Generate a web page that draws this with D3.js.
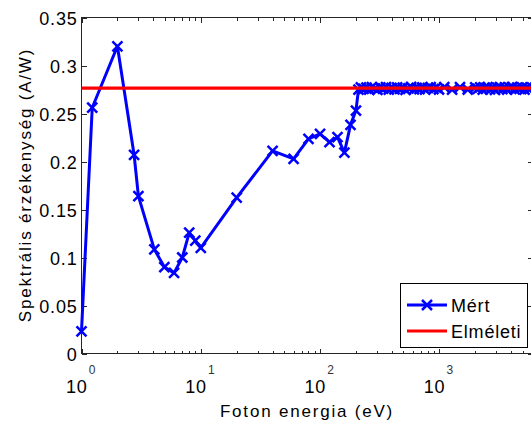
<!DOCTYPE html>
<html>
<head>
<meta charset="utf-8">
<script src="https://cdn.jsdelivr.net/npm/d3@7"></script>
<style>
body { margin: 0; background: #fff; }
svg { display: block; font-family: "Liberation Sans", Arial, sans-serif; }
</style>
</head>
<body>
<div id="box"></div>
<script>

// photon energy (eV) and measured responsivity (A/W)
var energy = [1.0, 1.23, 2.0, 2.76, 3.0, 4.08, 4.95, 5.97, 7.0, 8.0, 9.0, 10.0,
              20, 40, 60, 80, 100, 120, 140, 160, 180, 200,
              210, 220, 232, 245, 258, 272, 287, 303, 320, 338, 357, 377, 398, 420,
              443, 468, 494, 521, 550, 580, 612, 646, 682, 720, 760, 802, 846, 893,
              942, 994, 1100, 1280, 1490, 1730, 2000, 2100, 2200, 2310, 2420, 2540,
              2660, 2790, 2930, 3070, 3220, 3380, 3540, 3710, 3890, 4080, 4280, 4490,
              4710, 4940, 5180, 5430, 5700, 5980];

var measured = [0.023, 0.256, 0.320, 0.207, 0.164, 0.1085, 0.090, 0.084, 0.100, 0.1258, 0.1175, 0.110,
                0.1623, 0.211, 0.2027, 0.2236, 0.2288, 0.2201, 0.2253, 0.2093, 0.2382, 0.2531,
                0.2748, 0.2772, 0.2756, 0.2769, 0.2750, 0.2774, 0.2758, 0.2746, 0.2771, 0.2760, 0.2775, 0.2749, 0.2767, 0.2752,
                0.2773, 0.2757, 0.2770, 0.2747, 0.2762, 0.2776, 0.2751, 0.2768, 0.2755, 0.2772, 0.2748, 0.2766, 0.2774, 0.2753,
                0.2769, 0.2750, 0.2775, 0.2748, 0.2774, 0.2750, 0.2771, 0.2756, 0.2773, 0.2749, 0.2768, 0.2775,
                0.2752, 0.2770, 0.2747, 0.2766, 0.2774, 0.2754, 0.2771, 0.2749, 0.2767, 0.2776, 0.2751, 0.2769,
                0.2757, 0.2773, 0.2748, 0.2770, 0.2755, 0.2772];

var theoretical = 0.2765;

var yTicks = [0, 0.05, 0.1, 0.15, 0.2, 0.25, 0.3, 0.35];
var yTickLabels = ["0", "0.05", "0.1", "0.15", "0.2", "0.25", "0.3", "0.35"];
var xTicks = [1, 10, 100, 1000];
var xTickExp = ["0", "1", "2", "3"];
var legendLabels = ["Mért", "Elméleti"];

var w = 531,
    h = 421;

var pLeft = 81.5, pRight = 533, pTop = 17.5, pBottom = 353.5;

var x = d3.scaleLog().domain([1, 6100]).range([pLeft, pRight]);
var y = d3.scaleLinear().domain([0, 0.35]).range([pBottom, pTop]);

var minorTicks = [];
xTicks.forEach(function(d) {
  for (var k = 2; k <= 9; k++) {
    if (d * k < 6100) minorTicks.push(d * k);
  }
});

var svg = d3.select("#box")
            .append("svg")
            .attr("width", w)
            .attr("height", h);

var axisColor = "#262626";

// frame
svg.append("rect")
   .attr("x", pLeft)
   .attr("y", pTop)
   .attr("width", pRight - pLeft)
   .attr("height", pBottom - pTop)
   .attr("fill", "none")
   .attr("stroke", axisColor)
   .attr("stroke-width", 1)
   .attr("shape-rendering", "crispEdges");

function styleAxis(g) {
  g.select(".domain").remove();
  g.selectAll("line").attr("stroke", axisColor).attr("shape-rendering", "crispEdges");
  g.selectAll("text").remove();
}

svg.append("g").attr("transform", "translate(0," + pBottom + ")")
   .call(d3.axisBottom(x).tickValues(xTicks).tickSize(-5).tickFormat(""))
   .call(styleAxis);
svg.append("g").attr("transform", "translate(0," + pBottom + ")")
   .call(d3.axisBottom(x).tickValues(minorTicks).tickSize(-3).tickFormat(""))
   .call(styleAxis);
svg.append("g").attr("transform", "translate(0," + pTop + ")")
   .call(d3.axisTop(x).tickValues(xTicks).tickSize(-5).tickFormat(""))
   .call(styleAxis);
svg.append("g").attr("transform", "translate(0," + pTop + ")")
   .call(d3.axisTop(x).tickValues(minorTicks).tickSize(-3).tickFormat(""))
   .call(styleAxis);
svg.append("g").attr("transform", "translate(" + pLeft + ",0)")
   .call(d3.axisLeft(y).tickValues(yTicks).tickSize(-5).tickFormat(""))
   .call(styleAxis);
svg.append("g").attr("transform", "translate(" + pRight + ",0)")
   .call(d3.axisRight(y).tickValues(yTicks).tickSize(-5).tickFormat(""))
   .call(styleAxis);

// y tick labels
svg.selectAll("text.ylab")
   .data(yTicks)
   .enter()
   .append("text")
   .attr("class", "ylab")
   .attr("x", pLeft - 4)
   .attr("y", function(d) { return y(d) + 7; })
   .attr("text-anchor", "end")
   .attr("font-size", "18px")
   .attr("letter-spacing", "0.8px")
   .attr("fill", "#000")
   .text(function(d, i) { return yTickLabels[i]; });

// x tick labels 10^n
svg.selectAll("text.xbase")
   .data(xTicks)
   .enter()
   .append("text")
   .attr("class", "xbase")
   .attr("x", function(d) { return x(d) + 6; })
   .attr("y", 393)
   .attr("text-anchor", "end")
   .attr("font-size", "18px")
   .attr("letter-spacing", "0.8px")
   .attr("fill", "#000")
   .text("10");

svg.selectAll("text.xexp")
   .data(xTicks)
   .enter()
   .append("text")
   .attr("class", "xexp")
   .attr("x", function(d) { return x(d) + 10.5; })
   .attr("y", 374)
   .attr("text-anchor", "middle")
   .attr("font-size", "12px")
   .attr("fill", "#333")
   .text(function(d, i) { return xTickExp[i]; });

// axis titles
svg.append("text")
   .attr("x", 307)
   .attr("y", 417)
   .attr("text-anchor", "middle")
   .attr("font-size", "17px")
   .attr("letter-spacing", "1.8px")
   .text("Foton energia (eV)");

svg.append("text")
   .attr("transform", "translate(30.5,185) rotate(-90)")
   .attr("text-anchor", "middle")
   .attr("font-size", "17px")
   .attr("letter-spacing", "1.8px")
   .text("Spektrális érzékenység (A/W)");

var plot = svg.append("g");

var line = d3.line()
             .x(function(d, i) { return x(energy[i]); })
             .y(function(d) { return y(d); });

var blue = "#0000ff",
    red = "#ff0000";

var xMark = "M-5,-5L5,5M-5,5L5,-5";

plot.append("path")
    .datum(measured)
    .attr("d", line)
    .attr("fill", "none")
    .attr("stroke", blue)
    .attr("stroke-width", 3)
    .attr("stroke-linejoin", "round");

plot.selectAll("path.mark")
    .data(measured)
    .enter()
    .append("path")
    .attr("class", "mark")
    .attr("d", xMark)
    .attr("transform", function(d, i) {
      return "translate(" + x(energy[i]) + "," + y(d) + ")";
    })
    .attr("stroke", blue)
    .attr("stroke-width", 2.5)
    .attr("fill", "none");

plot.append("line")
    .attr("x1", pLeft)
    .attr("x2", pRight)
    .attr("y1", y(theoretical))
    .attr("y2", y(theoretical))
    .attr("stroke", red)
    .attr("stroke-width", 3.2);

// legend
var lg = svg.append("g");

lg.append("rect")
  .attr("x", 400.5)
  .attr("y", 283.5)
  .attr("width", 127)
  .attr("height", 64)
  .attr("fill", "#fff")
  .attr("stroke", "#000")
  .attr("stroke-width", 1)
  .attr("shape-rendering", "crispEdges");

var legendY = [305, 331];
var legendColors = [blue, red];

lg.selectAll("line.key")
  .data(legendLabels)
  .enter()
  .append("line")
  .attr("class", "key")
  .attr("x1", 407)
  .attr("x2", 447)
  .attr("y1", function(d, i) { return legendY[i]; })
  .attr("y2", function(d, i) { return legendY[i]; })
  .attr("stroke", function(d, i) { return legendColors[i]; })
  .attr("stroke-width", 3);

lg.append("path")
  .attr("d", xMark)
  .attr("transform", "translate(427," + legendY[0] + ")")
  .attr("stroke", blue)
  .attr("stroke-width", 2.5)
  .attr("fill", "none");

lg.selectAll("text.key")
  .data(legendLabels)
  .enter()
  .append("text")
  .attr("class", "key")
  .attr("x", 451)
  .attr("y", function(d, i) { return legendY[i] + 7; })
  .attr("font-size", "18px")
  .attr("letter-spacing", "0.8px")
  .text(function(d) { return d; });

</script>
</body>
</html>
